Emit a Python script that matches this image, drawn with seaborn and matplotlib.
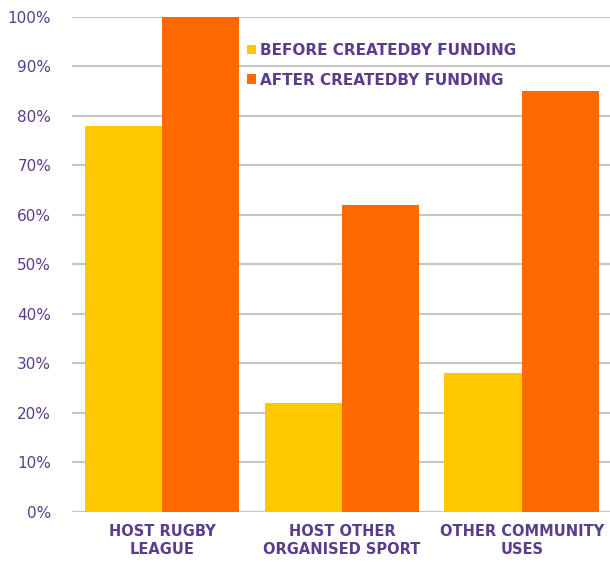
import matplotlib.pyplot as plt
import pandas as pd
import seaborn as sns
from matplotlib.ticker import PercentFormatter
from matplotlib.patches import Patch

# ---------------- data ----------------
categories = ["HOST RUGBY\nLEAGUE", "HOST OTHER\nORGANISED SPORT", "OTHER COMMUNITY\nUSES"]
series_names = ["BEFORE CREATEDBY FUNDING", "AFTER CREATEDBY FUNDING"]
before_vals = [78, 22, 28]
after_vals = [100, 62, 85]

purple = "#5a3d8c"
colors = ["#ffc800", "#ff6a00"]

df = pd.DataFrame({
    "category": categories * 2,
    "series": [series_names[0]] * 3 + [series_names[1]] * 3,
    "value": before_vals + after_vals,
})

sns.set_style("white")
plt.rcParams["font.family"] = ["DejaVu Sans"]

fig = plt.figure(figsize=(6.10, 5.62), dpi=100)
ax = fig.add_axes([0.118, 0.089, 0.882, 0.881])

sns.barplot(data=df, x="category", y="value", hue="series", palette=colors,
            width=0.86, gap=0, saturation=1, linewidth=0, edgecolor="none",
            ax=ax, legend=False, zorder=3)

ax.set_xlim(-0.5, 2.49)
ax.set_ylim(0, 100)
ax.set_yticks(range(0, 101, 10))
ax.yaxis.set_major_formatter(PercentFormatter(decimals=0))
ax.grid(axis="y", color="#c6c6ca", linewidth=1.5, zorder=0)
ax.set_axisbelow(True)
for s in ax.spines.values():
    s.set_visible(False)
ax.set_xlabel("")
ax.set_ylabel("")
ax.tick_params(axis="y", colors=purple, labelsize=11, length=0, pad=15)
ax.tick_params(axis="x", colors=purple, labelsize=10.5, length=0, pad=9)
for lbl in ax.get_xticklabels():
    lbl.set_fontweight("semibold")
    lbl.set_linespacing(1.25)

handles = [Patch(facecolor=c, edgecolor="none") for c in colors]
leg = ax.legend(handles, series_names, loc="upper left", bbox_to_anchor=(0.30, 0.975),
                frameon=False, fontsize=11, handlelength=0.6, handleheight=0.6,
                handletextpad=0.25, labelspacing=0.95)
for t in leg.get_texts():
    t.set_color(purple)
    t.set_fontweight("semibold")

fig.savefig("out.png", dpi=100)
